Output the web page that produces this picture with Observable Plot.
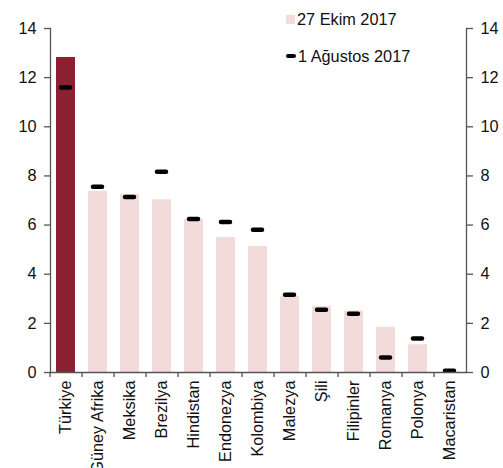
<!DOCTYPE html>
<html>
<head>
<meta charset="utf-8">
<script src="https://cdn.jsdelivr.net/npm/d3@7"></script>
<script src="https://cdn.jsdelivr.net/npm/@observablehq/plot@0.6"></script>
<style>
  html, body { margin: 0; padding: 0; background: #fff; }
  #wrap { position: relative; width: 503px; height: 468px; font-family: "Liberation Sans", Arial, sans-serif; }
  .legend { position: absolute; left: 286px; font-size: 16.3px; color: #111; line-height: 1; white-space: nowrap; display: flex; align-items: center; }
  .sw-bar { width: 9px; height: 9px; background: #F2DCDB; margin-right: 2px; }
  .sw-dash { width: 10px; height: 4px; border-radius: 2px; background: #000; margin-right: 2px; }
</style>
</head>
<body>
<div id="wrap">
  <div class="legend" style="top:11px"><span class="sw-bar"></span>27 Ekim 2017</div>
  <div class="legend" style="top:48px"><span class="sw-dash"></span>1 Ağustos 2017</div>
</div>
<script>
const countries = ["Türkiye", "Güney Afrika", "Meksika", "Brezilya", "Hindistan", "Endonezya", "Kolombiya", "Malezya", "Şili", "Filipinler", "Romanya", "Polonya", "Macaristan"];
const ekim2017 = [12.82, 7.37, 7.24, 7.03, 6.24, 5.49, 5.13, 3.08, 2.69, 2.50, 1.84, 1.13, 0];
const agustos2017 = [11.6, 7.56, 7.14, 8.17, 6.25, 6.13, 5.81, 3.16, 2.55, 2.39, 0.61, 1.38, 0.07];
const yTicks = [0, 2, 4, 6, 8, 10, 12, 14];

const data = countries.map((c, i) => ({country: c, ekim: ekim2017[i], agustos: agustos2017[i]}));

const W = 503, H = 468, mL = 50, mR = 37, mT = 28, mB = 96;
const step = (W - mL - mR) / countries.length;
const axisColor = "#555";
const fs = 16.3;

const chart = Plot.plot({
  width: W,
  height: H,
  marginLeft: mL,
  marginRight: mR,
  marginTop: mT,
  marginBottom: mB,
  style: {fontFamily: "'Liberation Sans', Arial, sans-serif", fontSize: fs + "px", color: "#111", background: "transparent"},
  x: {domain: countries, paddingInner: 0.4, paddingOuter: 0.2, label: null},
  y: {domain: [0, 14], label: null},
  marks: [
    Plot.barY(data, {x: "country", y: "ekim", fill: d => d.country === "Türkiye" ? "#8A2030" : "#F2DCDB"}),
    Plot.tickY(data, {x: "country", y: "agustos", stroke: "#000", strokeWidth: 4.5, strokeLinecap: "round", insetLeft: 5, insetRight: 5}),
    // axis lines
    Plot.ruleY([0], {stroke: axisColor, strokeWidth: 1.3}),
    Plot.frame({anchor: "left", stroke: axisColor, strokeWidth: 1.3}),
    Plot.frame({anchor: "right", stroke: axisColor, strokeWidth: 1.3}),
    // y axes on both sides
    Plot.axisY(yTicks, {anchor: "left", tickSize: 6, tickPadding: 8, fontSize: fs, stroke: axisColor, strokeWidth: 1.3, label: null}),
    Plot.axisY(yTicks, {anchor: "right", tickSize: 6, tickPadding: 8, fontSize: fs, stroke: axisColor, strokeWidth: 1.3, label: null}),
    // category boundary ticks
    Plot.axisX({tickSize: 5, text: null, dx: -step / 2, stroke: axisColor, strokeWidth: 1.3, label: null}),
    // rotated category labels
    Plot.axisX({tickSize: 0, tickPadding: 8, tickRotate: -90, fontSize: fs, label: null})
  ]
});

document.getElementById("wrap").prepend(chart);
chart.style.position = "absolute";
chart.style.left = "0";
chart.style.top = "0";
</script>
</body>
</html>
